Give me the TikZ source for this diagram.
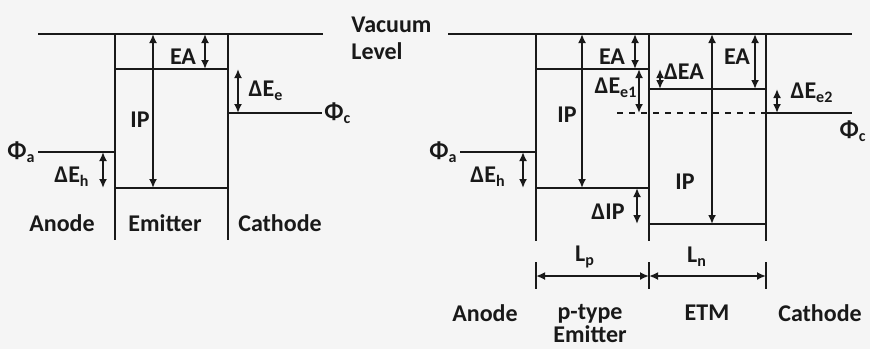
\documentclass[tikz,border=0pt]{standalone}
\usepackage{fontspec}
\setmainfont{Carlito}
\usetikzlibrary{arrows.meta}

\tikzset{
  level/.style={line width=.7pt},
  vac/.style={line width=1.1pt},
  gap/.style={<->,>={Latex[length=4.5pt,width=4pt]},line width=.9pt},
  span/.style={<->,>={Latex[length=4.5pt,width=4pt]},line width=.9pt},
  lbl/.style={font=\bfseries\fontsize{12}{12}\selectfont,inner sep=1pt}
}

\begin{document}
\begin{tikzpicture}[x=.5pt,y=-.5pt,color=black!90]

\fill[black!4] (0,0) rectangle (870,349);
\useasboundingbox (0,0) rectangle (870,349);

% Single layer
\begin{scope}
\draw[vac] (38,34)--(323,34);
\draw[level] (115,34)--(115,240);
\draw[level] (228,34)--(228,240);
\draw[level] (115,69)--(228,69);
\draw[level] (115,188)--(228,188);
\draw[level] (38,152)--(115,152);
\draw[level] (228,113)--(322,113);

\draw[gap] (153,34)--(153,188);
\draw[gap] (205,34)--(205,69);
\draw[gap] (238,69)--(238,113);
\draw[gap] (103,152)--(103,188);

\node[lbl,left] (phia) at (38,152) {Φ\textsubscript{a}};
\node[lbl,right] (phic) at (322,113) {Φ\textsubscript{c}};
\node[lbl] (ip) at (140,120) {IP};
\node[lbl] (ea) at (183,57) {EA};
\node[lbl] (dee) at (266,91) {ΔE\textsubscript{e}};
\node[lbl] (deh) at (72,177) {ΔE\textsubscript{h}};

\node[lbl] (anode) at (62,223) {Anode};
\node[lbl] (emit) at (165,223) {Emitter};
\node[lbl] (cath) at (280,223) {Cathode};
\end{scope}

\node[lbl,anchor=west,align=left,inner sep=0pt,font=\bfseries\fontsize{12}{13.5}\selectfont] (vaclvl) at (351,38) {Vacuum\\Level};

% Bilayer
\begin{scope}[xshift=215pt]
\draw[vac] (18,34)--(422,34);
\foreach \xx in {106,219,336}{
  \draw[level] (\xx,34)--(\xx,241);
  \draw[level] (\xx,262)--(\xx,289);
}
\draw[level] (106,69)--(219,69);
\draw[level] (106,188)--(219,188);
\draw[level] (219,89)--(336,89);
\draw[level] (219,224)--(336,224);
\draw[level,dashed] (187,113)--(336,113);
\draw[level] (336,113)--(422,113);
\draw[level] (30,152)--(106,152);

\draw[gap] (93,152)--(93,188);
\draw[gap] (152,34)--(152,188);
\draw[gap] (205,34)--(205,69);
\draw[gap] (209,69)--(209,113);
\draw[gap] (230,69)--(230,89);
\draw[gap] (325,34)--(325,89);
\draw[gap] (282,34)--(282,224);
\draw[gap] (207,188)--(207,224);
\draw[gap] (347,89)--(347,113);

\draw[span] (106,276)--(219,276);
\draw[span] (219,276)--(336,276);

\node[lbl,left] (phia2) at (30,152) {Φ\textsubscript{a}};
\node[lbl,anchor=east] (phic2) at (439,131) {Φ\textsubscript{c}};
\node[lbl] (deh2) at (58,177) {ΔE\textsubscript{h}};
\node[lbl] (ip2) at (137,115) {IP};
\node[lbl] (ea2) at (182,57) {EA};
\node[lbl] (dee1) at (186,88) {ΔE\textsubscript{e1}};
\node[lbl] (dea) at (254,72) {ΔEA};
\node[lbl] (ea3) at (307,57) {EA};
\node[lbl] (ip3) at (255,182) {IP};
\node[lbl] (dip) at (178,212) {ΔIP};
\node[lbl] (dee2) at (382,93) {ΔE\textsubscript{e2}};

\node[lbl] (lp) at (155,257) {L\textsubscript{p}};
\node[lbl] (ln) at (267,257) {L\textsubscript{n}};

\node[lbl] (anode2) at (55,313) {Anode};
\node[lbl,align=center,font=\bfseries\fontsize{12}{11.5}\selectfont] (emit2) at (160,324) {p-type\\Emitter};
\node[lbl] (etm) at (277,313) {ETM};
\node[lbl] (cath2) at (390,313) {Cathode};
\end{scope}

\end{tikzpicture}
\end{document}
